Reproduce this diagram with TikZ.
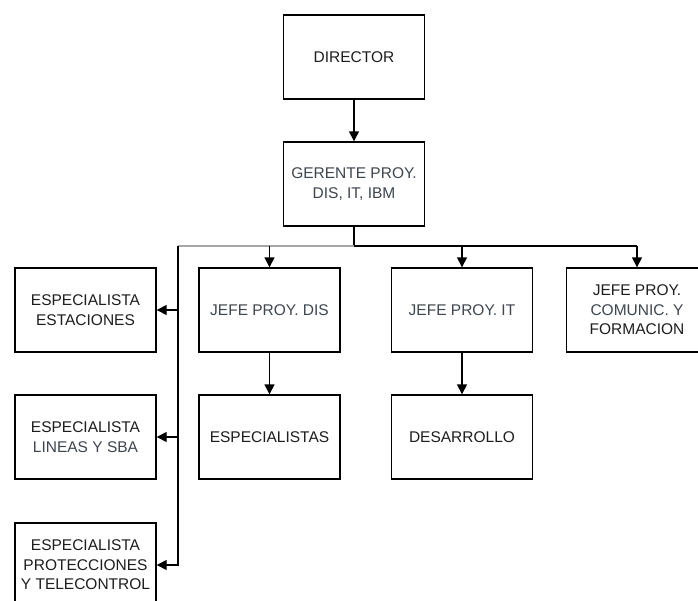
\documentclass[tikz,border=0pt]{standalone}
\usepackage{fontspec}
\setmainfont{Liberation Sans}
\usetikzlibrary{arrows.meta}
\definecolor{txt}{HTML}{1E1E1E}
\definecolor{txtl}{HTML}{3E4650}
\begin{document}
\begin{tikzpicture}[x=1pt,y=-1pt,
  box/.style={draw=black, line width=1.4pt, minimum width=141pt, minimum height=84pt,
    inner sep=0pt, align=center, text=txt,
    font=\fontsize{15.5}{19.5}\selectfont},
  light/.style={text=txtl},
  conn/.style={line width=1.4pt, black},
  arr/.style={conn, -{Triangle[length=10pt,width=10pt]}}]
\useasboundingbox[fill=white] (0,0) rectangle (698,600);

\node[box] (dir) at (354,57) {DIRECTOR};
\node[box,light] (ger) at (354,184) {GERENTE PROY.\\DIS, IT, IBM};

\node[box] (est) at (85.5,310) {ESPECIALISTA\\ESTACIONES};
\node[box] (lin) at (85.5,437) {ESPECIALISTA\\\textcolor{txtl}{LINEAS Y SBA}};
\node[box] (pro) at (85.5,565) {ESPECIALISTA\\PROTECCIONES\\Y TELECONTROL};

\node[box,light] (jdis) at (269.5,310) {JEFE PROY. DIS};
\node[box,light] (jit) at (462,310) {JEFE PROY. IT};
\node[box] (jcom) at (637,310) {JEFE PROY.\\\textcolor{txtl}{COMUNIC. Y}\\FORMACION};

\node[box] (esp) at (269.5,437) {ESPECIALISTAS};
\node[box] (des) at (462,437) {DESARROLLO};

\coordinate (bus) at (354,246);
\coordinate (busL) at (178,246);
\coordinate (busR) at (637,246);

\draw[arr] (dir) -- (ger);
\draw[conn] (ger.south) -- (bus) -- (busR);
\draw[line width=1.4pt, black!35] (bus) -- (busL);
\draw[arr] (jdis.north |- bus) -- (jdis.north);
\draw[arr] (jit.north |- bus) -- (jit.north);
\draw[arr] (busR) -- (jcom.north);
\draw[arr] (busL) |- (pro.east);
\draw[arr] (busL |- est.east) -- (est.east);
\draw[arr] (busL |- lin.east) -- (lin.east);
\draw[arr] (jdis) -- (esp);
\draw[arr] (jit) -- (des);
\end{tikzpicture}
\end{document}
